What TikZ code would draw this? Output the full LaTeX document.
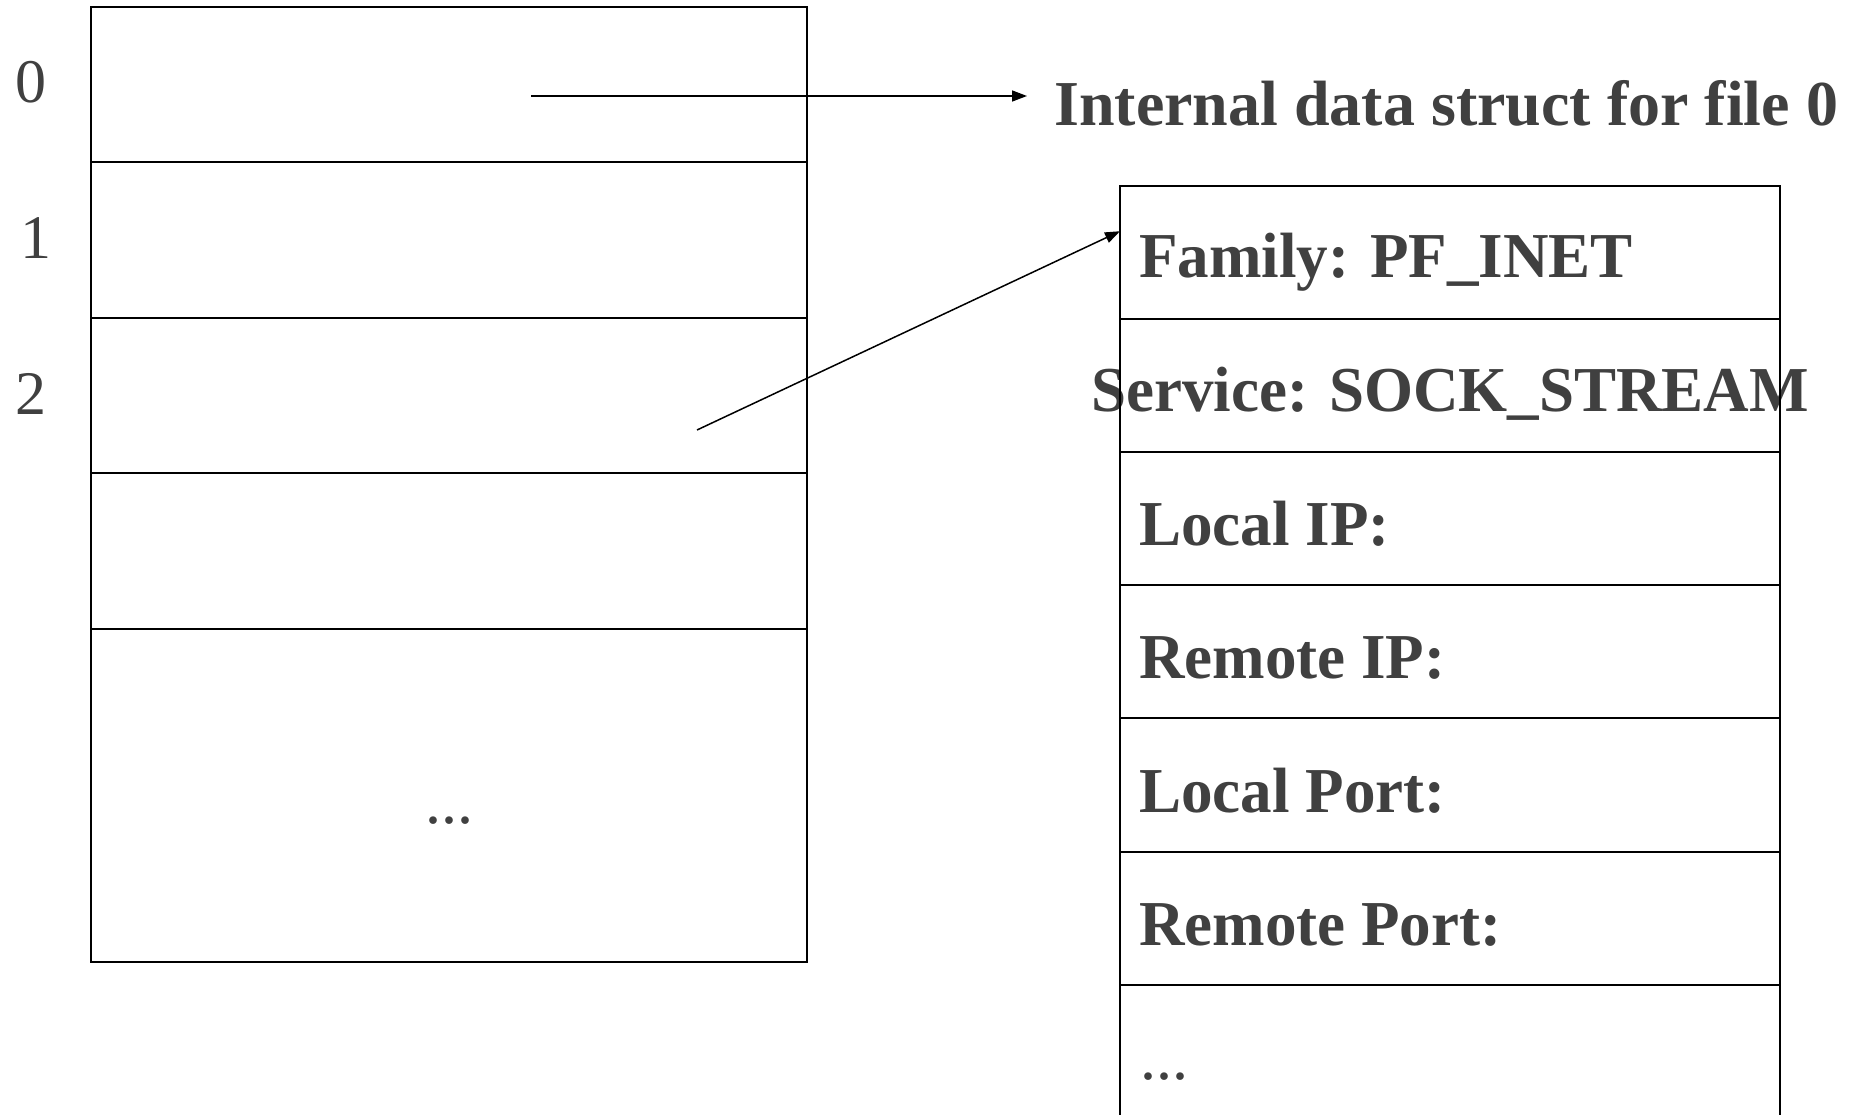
\documentclass[tikz,border=0pt]{standalone}
\usepackage{fontspec}
\setmainfont{Liberation Serif}
\newfontfamily\fldfont[FakeStretch=0.985]{Liberation Serif}
\usetikzlibrary{arrows.meta,calc}
\definecolor{txt}{HTML}{404040}
\begin{document}
\begin{tikzpicture}[x=1pt,y=-1pt,
  cell/.style={draw=black, line width=2pt, minimum width=716pt, inner sep=0pt, outer sep=0pt},
  rcell/.style={draw=black, line width=2pt, minimum width=660pt, inner sep=0pt, outer sep=0pt},
  lbl/.style={text=txt, font=\fontsize{62}{74}\selectfont, inner sep=0pt, anchor=base},
  fld/.style={text=txt, font=\fldfont\fontsize{64}{77}\selectfont\bfseries, inner sep=0pt, anchor=base west},
  ttl/.style={text=txt, font=\fontsize{64}{77}\selectfont\bfseries, inner sep=0pt, anchor=base west},
  dots/.style={text=txt, font=\fontsize{64}{76}\selectfont, inner sep=0pt},
  arr/.style={line width=1.5pt, -{Triangle[length=15pt,width=11pt]}}]
\useasboundingbox (0,0) rectangle (1856,1115);
\clip (0,0) rectangle (1856,1115);
\fill[white] (0,0) rectangle (1856,1115);

% index labels
\node[lbl] (l0) at (31,103) {0};
\node[lbl] (l1) at (36,259) {1};
\node[lbl] (l2) at (31,414) {2};

% left table
\node[cell, minimum height=155pt] (f0) at (449,84.5) {};
\node[cell, minimum height=156pt] (f1) at (449,240) {};
\node[cell, minimum height=155pt] (f2) at (449,395.5) {};
\node[cell, minimum height=156pt] (f3) at (449,551) {};
\node[cell, minimum height=333pt] (f4) at (449,795.5) {};
\node[dots, anchor=base] (fdots) at (449,823) {...};

% title
\node[ttl] (title) at (1054,126) {Internal data struct for file 0};

% right table texts
\node[fld] (t1) at (1139,278) {Family: PF\_INET};
\node[fld, anchor=base] (t2) at (1450,411) {Service: SOCK\_STREAM};
\node[fld] (t3) at (1139,545) {Local IP:};
\node[fld] (t4) at (1139,678) {Remote IP:};
\node[fld] (t5) at (1139,812) {Local Port:};
\node[fld] (t6) at (1139,945) {Remote Port:};
\node[dots, anchor=base west] (t7) at (1140,1079) {...};

% right table cells
\node[rcell, minimum height=133pt] (r1) at (1450,252.5) {};
\node[rcell, minimum height=133pt] (r2) at (1450,385.5) {};
\node[rcell, minimum height=133pt] (r3) at (1450,518.5) {};
\node[rcell, minimum height=133pt] (r4) at (1450,651.5) {};
\node[rcell, minimum height=134pt] (r5) at (1450,785) {};
\node[rcell, minimum height=133pt] (r6) at (1450,918.5) {};
\node[rcell, minimum height=133pt] (r7) at (1450,1051.5) {};

% arrows
\coordinate (s0) at (531,96);
\draw[arr, shorten >=27pt] (s0) -- (s0 -| title.west);
\coordinate (s2) at (697,430);
\coordinate (e2) at ($(r1.north west)!0.34!(r1.south west)$);
\draw[arr] (s2) -- (e2);
\end{tikzpicture}
\end{document}
